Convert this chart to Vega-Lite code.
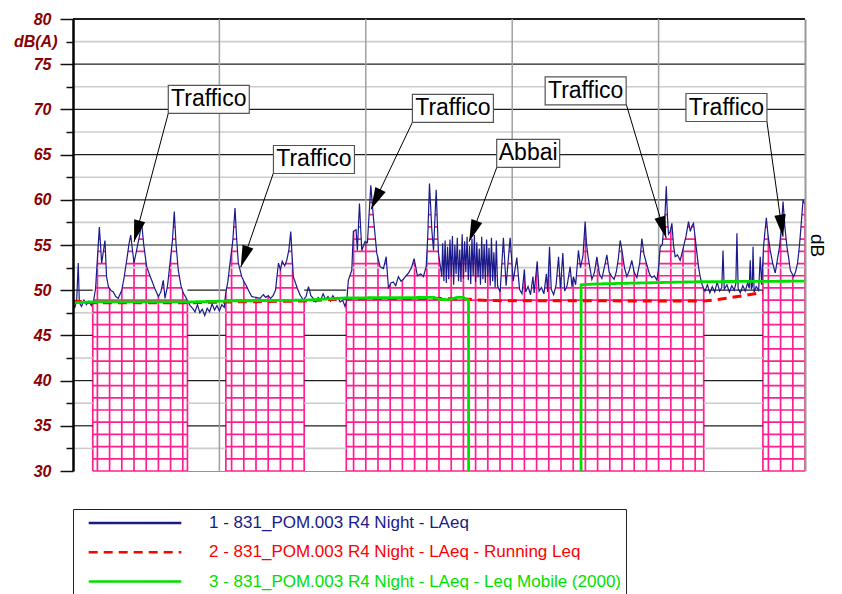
{
"$schema":"https://vega.github.io/schema/vega-lite/v6.json",
"width":732,"height":452,
"autosize":{"type":"none"},
"padding":{"left":73,"top":19,"right":37,"bottom":123},
"background":"white",
"config":{"view":{"stroke":null},"axis":{"grid":false,"title":null},
"legend":{"orient":"none","legendX":0,"legendY":490,"direction":"vertical","padding":4,"strokeColor":"#222","fillColor":"white","symbolType":"stroke","symbolSize":8575,"symbolStrokeWidth":2.5,"symbolOffset":10,"clipHeight":20,"rowPadding":9.3,"labelOffset":26,"labelFont":"Liberation Sans","labelFontSize":17,"labelLimit":800}},
"resolve":{"axis":{"y":"independent"}},
"datasets":{
"series":[
{"series":"LAeq","t":0,"db":48.5},{"series":"LAeq","t":1.5,"db":48.1},{"series":"LAeq","t":3,"db":48.8},{"series":"LAeq","t":4.3,"db":53.0},{"series":"LAeq","t":5.2,"db":48.6},{"series":"LAeq","t":7,"db":48.2},{"series":"LAeq","t":9,"db":48.9},{"series":"LAeq","t":11,"db":48.4},{"series":"LAeq","t":13,"db":48.8},{"series":"LAeq","t":15,"db":48.3},{"series":"LAeq","t":17,"db":48.9},{"series":"LAeq","t":18.5,"db":50.2},{"series":"LAeq","t":20,"db":53.5},{"series":"LAeq","t":21.6,"db":57.0},{"series":"LAeq","t":23.5,"db":53.0},{"series":"LAeq","t":26.2,"db":55.5},{"series":"LAeq","t":27.5,"db":51.5},{"series":"LAeq","t":29,"db":50.4},{"series":"LAeq","t":31,"db":50.0},{"series":"LAeq","t":33,"db":49.8},{"series":"LAeq","t":35,"db":49.3},{"series":"LAeq","t":37.1,"db":49.1},{"series":"LAeq","t":40,"db":50.0},{"series":"LAeq","t":42,"db":51.5},{"series":"LAeq","t":44,"db":53.3},{"series":"LAeq","t":46,"db":55.2},{"series":"LAeq","t":47.3,"db":56.1},{"series":"LAeq","t":50,"db":53.0},{"series":"LAeq","t":52.7,"db":54.8},{"series":"LAeq","t":54.5,"db":56.0},{"series":"LAeq","t":56.3,"db":57.4},{"series":"LAeq","t":58,"db":55.0},{"series":"LAeq","t":60.4,"db":52.6},{"series":"LAeq","t":62.5,"db":51.8},{"series":"LAeq","t":64.5,"db":51.1},{"series":"LAeq","t":67,"db":50.2},{"series":"LAeq","t":70,"db":49.3},{"series":"LAeq","t":72,"db":49.8},{"series":"LAeq","t":74,"db":51.1},{"series":"LAeq","t":75.4,"db":49.1},{"series":"LAeq","t":77.5,"db":50.5},{"series":"LAeq","t":79.5,"db":53.0},{"series":"LAeq","t":81.5,"db":55.5},{"series":"LAeq","t":83,"db":58.7},{"series":"LAeq","t":84.5,"db":55.0},{"series":"LAeq","t":86.3,"db":52.2},{"series":"LAeq","t":88.5,"db":50.5},{"series":"LAeq","t":90.4,"db":49.7},{"series":"LAeq","t":92.5,"db":49.2},{"series":"LAeq","t":94.5,"db":48.7},{"series":"LAeq","t":96,"db":48.3},{"series":"LAeq","t":98,"db":48.0},{"series":"LAeq","t":100,"db":47.6},{"series":"LAeq","t":102,"db":48.4},{"series":"LAeq","t":104,"db":47.5},{"series":"LAeq","t":106,"db":47.9},{"series":"LAeq","t":108,"db":47.2},{"series":"LAeq","t":110,"db":48.0},{"series":"LAeq","t":112,"db":47.6},{"series":"LAeq","t":114,"db":48.5},{"series":"LAeq","t":116,"db":47.8},{"series":"LAeq","t":118,"db":48.3},{"series":"LAeq","t":120,"db":47.7},{"series":"LAeq","t":122,"db":48.4},{"series":"LAeq","t":124,"db":48.1},{"series":"LAeq","t":125.2,"db":49.7},{"series":"LAeq","t":127,"db":51.0},{"series":"LAeq","t":128.7,"db":53.0},{"series":"LAeq","t":131,"db":55.5},{"series":"LAeq","t":132.8,"db":59.1},{"series":"LAeq","t":134,"db":56.0},{"series":"LAeq","t":135.5,"db":53.0},{"series":"LAeq","t":138.3,"db":51.5},{"series":"LAeq","t":140.4,"db":50.9},{"series":"LAeq","t":142.4,"db":50.4},{"series":"LAeq","t":144.5,"db":49.8},{"series":"LAeq","t":146.5,"db":49.3},{"series":"LAeq","t":150,"db":49.2},{"series":"LAeq","t":153.3,"db":49.1},{"series":"LAeq","t":156,"db":49.5},{"series":"LAeq","t":158,"db":49.2},{"series":"LAeq","t":160,"db":49.4},{"series":"LAeq","t":162,"db":49.1},{"series":"LAeq","t":164,"db":49.4},{"series":"LAeq","t":166,"db":50.0},{"series":"LAeq","t":168.4,"db":53.0},{"series":"LAeq","t":170,"db":52.3},{"series":"LAeq","t":171.5,"db":53.2},{"series":"LAeq","t":173.5,"db":52.7},{"series":"LAeq","t":175.2,"db":53.3},{"series":"LAeq","t":177,"db":54.5},{"series":"LAeq","t":178.5,"db":56.5},{"series":"LAeq","t":179.5,"db":54.0},{"series":"LAeq","t":180.6,"db":51.5},{"series":"LAeq","t":183.9,"db":50.2},{"series":"LAeq","t":186,"db":49.5},{"series":"LAeq","t":188.8,"db":48.9},{"series":"LAeq","t":191,"db":49.3},{"series":"LAeq","t":193,"db":50.4},{"series":"LAeq","t":195,"db":49.4},{"series":"LAeq","t":196.8,"db":49.1},{"series":"LAeq","t":199,"db":48.7},{"series":"LAeq","t":201,"db":49.2},{"series":"LAeq","t":203,"db":48.9},{"series":"LAeq","t":205,"db":49.6},{"series":"LAeq","t":207,"db":49.0},{"series":"LAeq","t":209,"db":49.3},{"series":"LAeq","t":211,"db":48.8},{"series":"LAeq","t":213,"db":49.4},{"series":"LAeq","t":215,"db":48.9},{"series":"LAeq","t":217,"db":49.2},{"series":"LAeq","t":219,"db":48.7},{"series":"LAeq","t":221,"db":48.9},{"series":"LAeq","t":223,"db":48.2},{"series":"LAeq","t":224.5,"db":49.0},{"series":"LAeq","t":225.7,"db":51.1},{"series":"LAeq","t":228.5,"db":52.2},{"series":"LAeq","t":229.8,"db":56.5},{"series":"LAeq","t":232,"db":56.7},{"series":"LAeq","t":233.1,"db":54.4},{"series":"LAeq","t":234.8,"db":59.6},{"series":"LAeq","t":236.7,"db":54.4},{"series":"LAeq","t":239.4,"db":55.4},{"series":"LAeq","t":241.3,"db":55.2},{"series":"LAeq","t":244.1,"db":61.6},{"series":"LAeq","t":246.2,"db":58.1},{"series":"LAeq","t":249,"db":54.1},{"series":"LAeq","t":251.7,"db":52.6},{"series":"LAeq","t":254.5,"db":52.4},{"series":"LAeq","t":256.7,"db":53.7},{"series":"LAeq","t":258.6,"db":50.2},{"series":"LAeq","t":260.5,"db":50.8},{"series":"LAeq","t":262.6,"db":50.9},{"series":"LAeq","t":264.5,"db":50.5},{"series":"LAeq","t":266.7,"db":51.5},{"series":"LAeq","t":268.8,"db":51.0},{"series":"LAeq","t":270.8,"db":51.2},{"series":"LAeq","t":273,"db":51.6},{"series":"LAeq","t":275,"db":51.9},{"series":"LAeq","t":277.5,"db":52.5},{"series":"LAeq","t":279.6,"db":53.5},{"series":"LAeq","t":282.3,"db":51.6},{"series":"LAeq","t":285,"db":51.8},{"series":"LAeq","t":287.2,"db":51.5},{"series":"LAeq","t":289.5,"db":52.6},{"series":"LAeq","t":290.8,"db":56.0},{"series":"LAeq","t":292.2,"db":61.8},{"series":"LAeq","t":294.1,"db":56.7},{"series":"LAeq","t":295.5,"db":54.4},{"series":"LAeq","t":297.7,"db":61.1},{"series":"LAeq","t":299.5,"db":54.2},{"series":"LAeq","t":302.3,"db":51.5},
{"series":"LAeq","t":303,"db":55.2},{"series":"LAeq","t":304,"db":51.0},{"series":"LAeq","t":305,"db":55.5},{"series":"LAeq","t":306,"db":50.8},{"series":"LAeq","t":307,"db":54.8},{"series":"LAeq","t":308,"db":51.2},{"series":"LAeq","t":309,"db":55.6},{"series":"LAeq","t":310,"db":51.5},{"series":"LAeq","t":311,"db":56.0},{"series":"LAeq","t":312,"db":50.6},{"series":"LAeq","t":313,"db":55.0},{"series":"LAeq","t":314,"db":51.8},{"series":"LAeq","t":315,"db":55.8},{"series":"LAeq","t":316,"db":51.0},{"series":"LAeq","t":317,"db":54.5},{"series":"LAeq","t":318,"db":50.9},{"series":"LAeq","t":319,"db":56.2},{"series":"LAeq","t":320,"db":51.3},{"series":"LAeq","t":321,"db":55.4},{"series":"LAeq","t":322,"db":52.0},{"series":"LAeq","t":323,"db":55.9},{"series":"LAeq","t":324,"db":51.1},{"series":"LAeq","t":325,"db":54.9},{"series":"LAeq","t":326,"db":50.7},{"series":"LAeq","t":327,"db":55.7},{"series":"LAeq","t":328,"db":51.6},{"series":"LAeq","t":329,"db":56.1},{"series":"LAeq","t":330,"db":50.9},{"series":"LAeq","t":331,"db":55.3},{"series":"LAeq","t":332,"db":51.4},{"series":"LAeq","t":333,"db":54.6},{"series":"LAeq","t":334,"db":50.6},{"series":"LAeq","t":335,"db":55.9},{"series":"LAeq","t":336,"db":51.2},{"series":"LAeq","t":337,"db":55.1},{"series":"LAeq","t":338,"db":50.8},{"series":"LAeq","t":339,"db":55.6},{"series":"LAeq","t":340,"db":51.5},{"series":"LAeq","t":341,"db":54.7},{"series":"LAeq","t":342,"db":50.5},{"series":"LAeq","t":343,"db":55.8},{"series":"LAeq","t":344,"db":51.0},{"series":"LAeq","t":345,"db":54.2},{"series":"LAeq","t":346,"db":50.3},{"series":"LAeq","t":347,"db":55.5},{"series":"LAeq","t":348,"db":50.5},
{"series":"LAeq","t":350.1,"db":49.8},{"series":"LAeq","t":352.8,"db":55.8},{"series":"LAeq","t":355,"db":50.5},{"series":"LAeq","t":358.3,"db":55.8},{"series":"LAeq","t":360.8,"db":51.0},{"series":"LAeq","t":363.8,"db":53.6},{"series":"LAeq","t":366,"db":50.1},{"series":"LAeq","t":368,"db":49.6},{"series":"LAeq","t":370,"db":52.3},{"series":"LAeq","t":371,"db":49.8},{"series":"LAeq","t":373,"db":50.4},{"series":"LAeq","t":375,"db":49.5},{"series":"LAeq","t":377,"db":51.5},{"series":"LAeq","t":378,"db":49.7},{"series":"LAeq","t":380.5,"db":53.2},{"series":"LAeq","t":382,"db":49.9},{"series":"LAeq","t":384,"db":50.3},{"series":"LAeq","t":386,"db":49.6},{"series":"LAeq","t":388,"db":51.8},{"series":"LAeq","t":389,"db":49.8},{"series":"LAeq","t":390.6,"db":54.8},{"series":"LAeq","t":392,"db":50.1},{"series":"LAeq","t":394,"db":49.5},{"series":"LAeq","t":396,"db":50.6},{"series":"LAeq","t":398,"db":53.7},{"series":"LAeq","t":399.5,"db":50.2},{"series":"LAeq","t":401.5,"db":54.1},{"series":"LAeq","t":403,"db":49.9},{"series":"LAeq","t":405,"db":50.5},{"series":"LAeq","t":407.5,"db":52.6},{"series":"LAeq","t":409,"db":50.4},{"series":"LAeq","t":410.2,"db":51.5},{"series":"LAeq","t":412,"db":50.6},{"series":"LAeq","t":414.3,"db":54.4},{"series":"LAeq","t":416,"db":52.5},{"series":"LAeq","t":418,"db":53.8},{"series":"LAeq","t":419.8,"db":57.6},{"series":"LAeq","t":421,"db":55.0},{"series":"LAeq","t":422.3,"db":53.6},{"series":"LAeq","t":425.3,"db":51.2},{"series":"LAeq","t":427.5,"db":52.0},{"series":"LAeq","t":429.4,"db":53.7},{"series":"LAeq","t":431.5,"db":51.8},{"series":"LAeq","t":433.5,"db":51.3},{"series":"LAeq","t":435.5,"db":52.5},{"series":"LAeq","t":437.6,"db":53.9},{"series":"LAeq","t":439.5,"db":52.0},{"series":"LAeq","t":441.7,"db":51.5},{"series":"LAeq","t":443.5,"db":51.2},{"series":"LAeq","t":445.3,"db":52.0},{"series":"LAeq","t":447,"db":53.5},{"series":"LAeq","t":448.5,"db":55.5},{"series":"LAeq","t":450,"db":54.4},{"series":"LAeq","t":452,"db":52.5},{"series":"LAeq","t":454,"db":51.5},{"series":"LAeq","t":456,"db":52.2},{"series":"LAeq","t":458,"db":53.3},{"series":"LAeq","t":460,"db":52.0},{"series":"LAeq","t":462.2,"db":51.4},{"series":"LAeq","t":464.5,"db":53.0},{"series":"LAeq","t":466.3,"db":55.7},{"series":"LAeq","t":468,"db":54.0},{"series":"LAeq","t":470.4,"db":52.8},{"series":"LAeq","t":472.5,"db":51.8},{"series":"LAeq","t":474.5,"db":51.4},{"series":"LAeq","t":476.5,"db":51.6},{"series":"LAeq","t":478.6,"db":51.1},{"series":"LAeq","t":480,"db":52.5},{"series":"LAeq","t":481.3,"db":54.8},{"series":"LAeq","t":483,"db":55.0},{"series":"LAeq","t":484,"db":56.6},{"series":"LAeq","t":485.3,"db":58.5},{"series":"LAeq","t":486.3,"db":61.5},{"series":"LAeq","t":487.3,"db":58.0},{"series":"LAeq","t":488.1,"db":56.2},{"series":"LAeq","t":489.5,"db":56.5},{"series":"LAeq","t":490.9,"db":57.4},{"series":"LAeq","t":492.2,"db":55.0},{"series":"LAeq","t":493.6,"db":53.7},{"series":"LAeq","t":495.5,"db":53.9},{"series":"LAeq","t":497.7,"db":53.3},{"series":"LAeq","t":499,"db":54.0},{"series":"LAeq","t":500.4,"db":54.8},{"series":"LAeq","t":502.5,"db":56.0},{"series":"LAeq","t":504.5,"db":57.6},{"series":"LAeq","t":506,"db":56.5},{"series":"LAeq","t":507.3,"db":57.1},{"series":"LAeq","t":508.6,"db":57.4},{"series":"LAeq","t":510,"db":55.8},{"series":"LAeq","t":511.4,"db":54.1},{"series":"LAeq","t":512.8,"db":52.5},{"series":"LAeq","t":514.1,"db":51.5},{"series":"LAeq","t":515.5,"db":50.7},{"series":"LAeq","t":516.6,"db":50.3},{"series":"LAeq","t":518,"db":49.9},{"series":"LAeq","t":520,"db":50.6},{"series":"LAeq","t":522,"db":49.7},{"series":"LAeq","t":524,"db":50.4},{"series":"LAeq","t":526,"db":49.8},{"series":"LAeq","t":528,"db":50.9},{"series":"LAeq","t":530,"db":49.9},{"series":"LAeq","t":531.8,"db":50.3},{"series":"LAeq","t":532.8,"db":54.4},{"series":"LAeq","t":533.8,"db":50.1},{"series":"LAeq","t":536,"db":50.6},{"series":"LAeq","t":538,"db":49.8},{"series":"LAeq","t":540,"db":50.5},{"series":"LAeq","t":542,"db":50.0},{"series":"LAeq","t":543.3,"db":50.7},{"series":"LAeq","t":544.2,"db":56.3},{"series":"LAeq","t":545.2,"db":50.2},{"series":"LAeq","t":547,"db":49.7},{"series":"LAeq","t":549,"db":50.5},{"series":"LAeq","t":551,"db":49.9},{"series":"LAeq","t":553,"db":50.8},{"series":"LAeq","t":554.3,"db":50.2},{"series":"LAeq","t":555.1,"db":53.3},{"series":"LAeq","t":556,"db":50.1},{"series":"LAeq","t":556.8,"db":50.4},{"series":"LAeq","t":557.4,"db":54.8},{"series":"LAeq","t":558.3,"db":49.8},{"series":"LAeq","t":560,"db":50.4},{"series":"LAeq","t":562,"db":50.0},{"series":"LAeq","t":563.3,"db":53.7},{"series":"LAeq","t":564.5,"db":50.6},{"series":"LAeq","t":566,"db":54.8},{"series":"LAeq","t":567.2,"db":56.5},{"series":"LAeq","t":568.3,"db":58.0},{"series":"LAeq","t":569.8,"db":56.0},{"series":"LAeq","t":571.5,"db":54.4},{"series":"LAeq","t":573.5,"db":53.0},{"series":"LAeq","t":575.6,"db":51.9},{"series":"LAeq","t":577.5,"db":53.5},{"series":"LAeq","t":579.1,"db":54.8},{"series":"LAeq","t":580.7,"db":57.0},{"series":"LAeq","t":582,"db":59.8},{"series":"LAeq","t":583.5,"db":57.0},{"series":"LAeq","t":585.2,"db":54.8},{"series":"LAeq","t":586.7,"db":53.5},{"series":"LAeq","t":588,"db":52.2},{"series":"LAeq","t":590.7,"db":51.5},{"series":"LAeq","t":592.2,"db":52.0},{"series":"LAeq","t":593.9,"db":53.0},{"series":"LAeq","t":595.5,"db":55.0},{"series":"LAeq","t":597,"db":57.5},{"series":"LAeq","t":598.4,"db":60.0},{"series":"LAeq","t":600,"db":59.5},
{"series":"Running Leq","t":0,"db":48.8},{"series":"Running Leq","t":16.2,"db":48.6},{"series":"Running Leq","t":93.8,"db":48.6},{"series":"Running Leq","t":125.3,"db":48.7},{"series":"Running Leq","t":189.5,"db":48.8},{"series":"Running Leq","t":224,"db":49.05},{"series":"Running Leq","t":296,"db":49.1},{"series":"Running Leq","t":324,"db":49.0},{"series":"Running Leq","t":340,"db":48.85},{"series":"Running Leq","t":517,"db":48.8},{"series":"Running Leq","t":530,"db":49.0},{"series":"Running Leq","t":545,"db":49.3},{"series":"Running Leq","t":565.5,"db":49.75},
{"series":"Leq Mobile (2000)","t":0,"db":48.6},{"series":"Leq Mobile (2000)","t":16,"db":48.7},{"series":"Leq Mobile (2000)","t":94,"db":48.7},{"series":"Leq Mobile (2000)","t":125,"db":48.8},{"series":"Leq Mobile (2000)","t":190,"db":48.9},{"series":"Leq Mobile (2000)","t":224,"db":49.15},{"series":"Leq Mobile (2000)","t":296,"db":49.2},{"series":"Leq Mobile (2000)","t":300,"db":49.0},{"series":"Leq Mobile (2000)","t":308,"db":48.95},{"series":"Leq Mobile (2000)","t":315,"db":49.2},{"series":"Leq Mobile (2000)","t":320,"db":49.2},{"series":"Leq Mobile (2000)","t":322,"db":49.0},{"series":"Leq Mobile (2000)","t":324.2,"db":48.9},{"series":"Leq Mobile (2000)","t":324.3,"db":20},{"series":"Leq Mobile (2000)","t":416.4,"db":20},{"series":"Leq Mobile (2000)","t":416.5,"db":50.6},{"series":"Leq Mobile (2000)","t":430,"db":50.7},{"series":"Leq Mobile (2000)","t":465,"db":50.8},{"series":"Leq Mobile (2000)","t":517,"db":50.95},{"series":"Leq Mobile (2000)","t":600,"db":51.0}
],
"pinkH":[{"db":30},{"db":31.35},{"db":32.7},{"db":34.05},{"db":35.4},{"db":36.75},{"db":38.1},{"db":39.45},{"db":40.8},{"db":42.15},{"db":43.5},{"db":44.85},{"db":46.2},{"db":47.55},{"db":48.9},{"db":50.25},{"db":51.6},{"db":52.95},{"db":54.3},{"db":55.65},{"db":57.0},{"db":58.35},{"db":59.7},{"db":61.05},{"db":62.4}],
"pinkV":[{"t":16.2},{"t":20},{"t":30},{"t":40},{"t":50},{"t":60},{"t":70},{"t":80},{"t":90},{"t":93.8},{"t":125.3},{"t":130},{"t":140},{"t":150},{"t":160},{"t":170},{"t":180},{"t":189.5},{"t":224},{"t":230},{"t":240},{"t":250},{"t":260},{"t":270},{"t":280},{"t":290},{"t":300},{"t":310},{"t":320},{"t":330},{"t":340},{"t":350},{"t":360},{"t":370},{"t":380},{"t":390},{"t":400},{"t":410},{"t":420},{"t":430},{"t":440},{"t":450},{"t":460},{"t":470},{"t":480},{"t":490},{"t":500},{"t":510},{"t":517},{"t":565.5},{"t":570},{"t":580},{"t":590},{"t":600}],
"gaps":[{"start":0,"end":16.2,"levels":[32.5,35,37.5,40,42.5,45,47.5,50]},{"start":93.8,"end":125.3,"levels":[32.5,35,37.5,40,42.5,45,47.5,50]},{"start":189.5,"end":224,"levels":[32.5,35,37.5,40,42.5,45,47.5,50]},{"start":517,"end":565.5,"levels":[32.5,35,37.5,40,42.5,45,47.5,50]}],
"hgrid":[{"db":52.5},{"db":55},{"db":57.5},{"db":60},{"db":62.5},{"db":65},{"db":67.5},{"db":70},{"db":72.5},{"db":75},{"db":77.5},{"db":80}],
"vgrid":[{"t":120,"from":30},{"t":240,"from":55.3},{"t":360,"from":52.5},{"t":480,"from":52.5}],
"notes":[
{"label":"Traffico","tb":111.3,"vb":71.1,"t0":78.1,"v0":69.57,"t":50.0,"v":55.33},
{"label":"Traffico","tb":197.5,"vb":64.46,"t0":164.2,"v0":62.93,"t":137.5,"v":52.53},
{"label":"Traffico","tb":311.4,"vb":70.12,"t0":278.2,"v0":68.57,"t":244.3,"v":58.95},
{"label":"Abbai","tb":373.1,"vb":65.14,"t0":347.4,"v0":63.6,"t":324.7,"v":55.37},
{"label":"Traffico","tb":420.2,"vb":72.04,"t0":453.5,"v0":70.56,"t":486.3,"v":55.74},
{"label":"Traffico","tb":535.6,"vb":70.21,"t0":568.8,"v0":68.64,"t":582.0,"v":55.92}
]
},
"layer":[
{"data":{"name":"pinkH"},"mark":{"type":"rule","color":"#ff1f8f","strokeWidth":1.7},
 "encoding":{"x":{"datum":16.2,"type":"quantitative","scale":{"domain":[0,600],"nice":false,"zero":false},"axis":null},"x2":{"datum":600},
 "y":{"field":"db","type":"quantitative","scale":{"domain":[30,80],"nice":false,"zero":false},"axis":null}}},
{"data":{"name":"gaps"},"mark":{"type":"rect","fill":"white"},
 "encoding":{"x":{"field":"start","type":"quantitative","axis":null},"x2":{"field":"end"},"y":{"datum":30,"type":"quantitative","axis":null},"y2":{"datum":80}}},
{"data":{"name":"pinkV"},"mark":{"type":"rule","color":"#ff1f8f","strokeWidth":1.7},
 "encoding":{"x":{"field":"t","type":"quantitative","axis":null},"y":{"datum":30,"type":"quantitative","axis":null},"y2":{"datum":63}}},
{"data":{"name":"series"},"transform":[{"filter":"datum.series === 'LAeq'"}],"mark":{"type":"area","fill":"white","opacity":1},
 "encoding":{"x":{"field":"t","type":"quantitative","axis":null},"y":{"field":"db","type":"quantitative","axis":null},"y2":{"datum":80}}},
{"data":{"name":"hgrid"},"mark":{"type":"rule"},
 "encoding":{"x":{"datum":0,"type":"quantitative","axis":null},"x2":{"datum":600},
 "y":{"field":"db","type":"quantitative","axis":{"orient":"right","title":"dB","labels":false,"ticks":false,"domain":true,"domainColor":"#999999","domainWidth":2,"titleFont":"Liberation Sans","titleFontSize":19,"titleFontWeight":"normal","titleColor":"#000000","titlePadding":1,"zindex":1}},
 "color":{"condition":{"test":"datum.db % 5 === 0","value":"#1e1e1e"},"value":"#cccccc"},
 "strokeWidth":{"condition":[{"test":"datum.db === 80","value":2},{"test":"datum.db % 5 === 0","value":1.2}],"value":1.6}}},
{"data":{"name":"gaps"},"transform":[{"flatten":["levels"]}],"mark":{"type":"rule"},
 "encoding":{"x":{"field":"start","type":"quantitative","axis":null},"x2":{"field":"end"},"y":{"field":"levels","type":"quantitative","axis":null},
 "color":{"condition":{"test":"datum.levels % 5 === 0","value":"#1e1e1e"},"value":"#cccccc"},
 "strokeWidth":{"condition":{"test":"datum.levels % 5 === 0","value":1.2},"value":1.6}}},
{"data":{"name":"vgrid"},"mark":{"type":"rule","color":"#a0a0a0","strokeWidth":1.5},
 "encoding":{"x":{"field":"t","type":"quantitative","axis":null},"y":{"field":"from","type":"quantitative","axis":null},"y2":{"datum":80}}},
{"data":{"name":"series"},"transform":[{"filter":"datum.series === 'LAeq'"}],"mark":{"type":"line","strokeWidth":1.2,"clip":true},
 "encoding":{
 "x":{"field":"t","type":"quantitative","axis":{"values":[0,30,60,90,120,150,180,210,240,270,300,330,360,390,420,450,480,510,540,570,600],
   "labelExpr":"datum.value === 0 ? '23:05:49' : datum.value === 60 ? 's' : datum.value === 120 ? '23:07:49' : datum.value === 240 ? '23:09:49' : datum.value === 360 ? '23:11:49' : datum.value === 480 ? '23:13:49' : datum.value === 600 ? '23:15:49' : ''",
   "tickSize":{"condition":{"test":"datum.value % 120 === 0","value":14},"value":7},"tickColor":"#222222","tickWidth":1.3,"domainColor":"#000000","domainWidth":1.5,
   "labelFont":"Liberation Sans","labelFontSize":17,"labelFontWeight":"bold","labelFontStyle":"italic","labelColor":"#1a1a80","labelPadding":13,"labelFlush":false,"labelOverlap":false,"grid":false,"zindex":1}},
 "y":{"field":"db","type":"quantitative","axis":{"orient":"left","values":[30,32.5,35,37.5,40,42.5,45,47.5,50,52.5,55,57.5,60,62.5,65,67.5,70,72.5,75,77.5,80],
   "labelExpr":"datum.value === 77.5 ? 'dB(A)' : (datum.value % 5 === 0 ? datum.label : '')",
   "tickSize":{"condition":{"test":"datum.value % 5 === 0","value":13},"value":7},"tickColor":"#111111","tickWidth":1.5,"domainColor":"#000000","domainWidth":2.5,
   "labelFont":"Liberation Sans","labelFontSize":16,"labelFontWeight":"bold","labelFontStyle":"italic","labelColor":"#8b0000","labelPadding":9,"labelFlush":false,"labelOverlap":false,"grid":false,"zindex":1}},
 "color":{"field":"series","type":"nominal","title":null,"scale":{"domain":["LAeq","Running Leq","Leq Mobile (2000)"],"range":["#1a1a8a","#ff0000","#00e000"]},
   "legend":{"labelColor":{"expr":"scale('color', datum.value)"},"labelExpr":"datum.value === 'LAeq' ? '1 - 831_POM.003 R4 Night - LAeq' : datum.value === 'Running Leq' ? '2 - 831_POM.003 R4 Night - LAeq - Running Leq' : '3 - 831_POM.003 R4 Night - LAeq - Leq Mobile (2000)'"}},
 "strokeDash":{"field":"series","type":"nominal","title":null,"scale":{"domain":["LAeq","Running Leq","Leq Mobile (2000)"],"range":[[1,0],[9,6],[1,0]]},
   "legend":{"labelColor":{"expr":"scale('color', datum.value)"},"labelExpr":"datum.value === 'LAeq' ? '1 - 831_POM.003 R4 Night - LAeq' : datum.value === 'Running Leq' ? '2 - 831_POM.003 R4 Night - LAeq - Running Leq' : '3 - 831_POM.003 R4 Night - LAeq - Leq Mobile (2000)'"}}}},
{"data":{"name":"series"},"transform":[{"filter":"datum.series === 'Running Leq'"}],"mark":{"type":"line","strokeWidth":3,"clip":true},
 "encoding":{"x":{"field":"t","type":"quantitative","axis":null},"y":{"field":"db","type":"quantitative","axis":null},
 "color":{"field":"series","type":"nominal","title":null},"strokeDash":{"field":"series","type":"nominal","title":null}}},
{"data":{"name":"series"},"transform":[{"filter":"datum.series === 'Leq Mobile (2000)'"}],"mark":{"type":"line","strokeWidth":2.8,"clip":true},
 "encoding":{"x":{"field":"t","type":"quantitative","axis":null},"y":{"field":"db","type":"quantitative","axis":null},
 "color":{"field":"series","type":"nominal","title":null},"strokeDash":{"field":"series","type":"nominal","title":null}}},
{"data":{"name":"notes"},"mark":{"type":"rule","color":"#000000","strokeWidth":1},
 "encoding":{"x":{"field":"t0","type":"quantitative","axis":null},"y":{"field":"v0","type":"quantitative","axis":null},"x2":{"field":"t"},"y2":{"field":"v"}}},
{"data":{"name":"notes"},"mark":{"type":"point","shape":"M0,0L-0.26,1L0.26,1Z","filled":true,"color":"#000000","opacity":1,"size":1936,
 "angle":{"expr":"atan2(scale('y', datum.v) - scale('y', datum.v0), scale('x', datum.t) - scale('x', datum.t0)) * 180 / PI + 90"}},
 "encoding":{"x":{"field":"t","type":"quantitative","axis":null},"y":{"field":"v","type":"quantitative","axis":null}}},
{"data":{"name":"notes"},"mark":{"type":"rect","fill":"white","stroke":"#555555","strokeWidth":1.2,"width":{"expr":"datum.label === 'Abbai' ? 63 : 81"},"height":28},
 "encoding":{"x":{"field":"tb","type":"quantitative","axis":null},"y":{"field":"vb","type":"quantitative","axis":null}}},
{"data":{"name":"notes"},"mark":{"type":"text","font":"Liberation Sans","fontSize":23,"color":"#000000","align":"center","baseline":"middle"},
 "encoding":{"x":{"field":"tb","type":"quantitative","axis":null},"y":{"field":"vb","type":"quantitative","axis":null},"text":{"field":"label"}}}
]
}
